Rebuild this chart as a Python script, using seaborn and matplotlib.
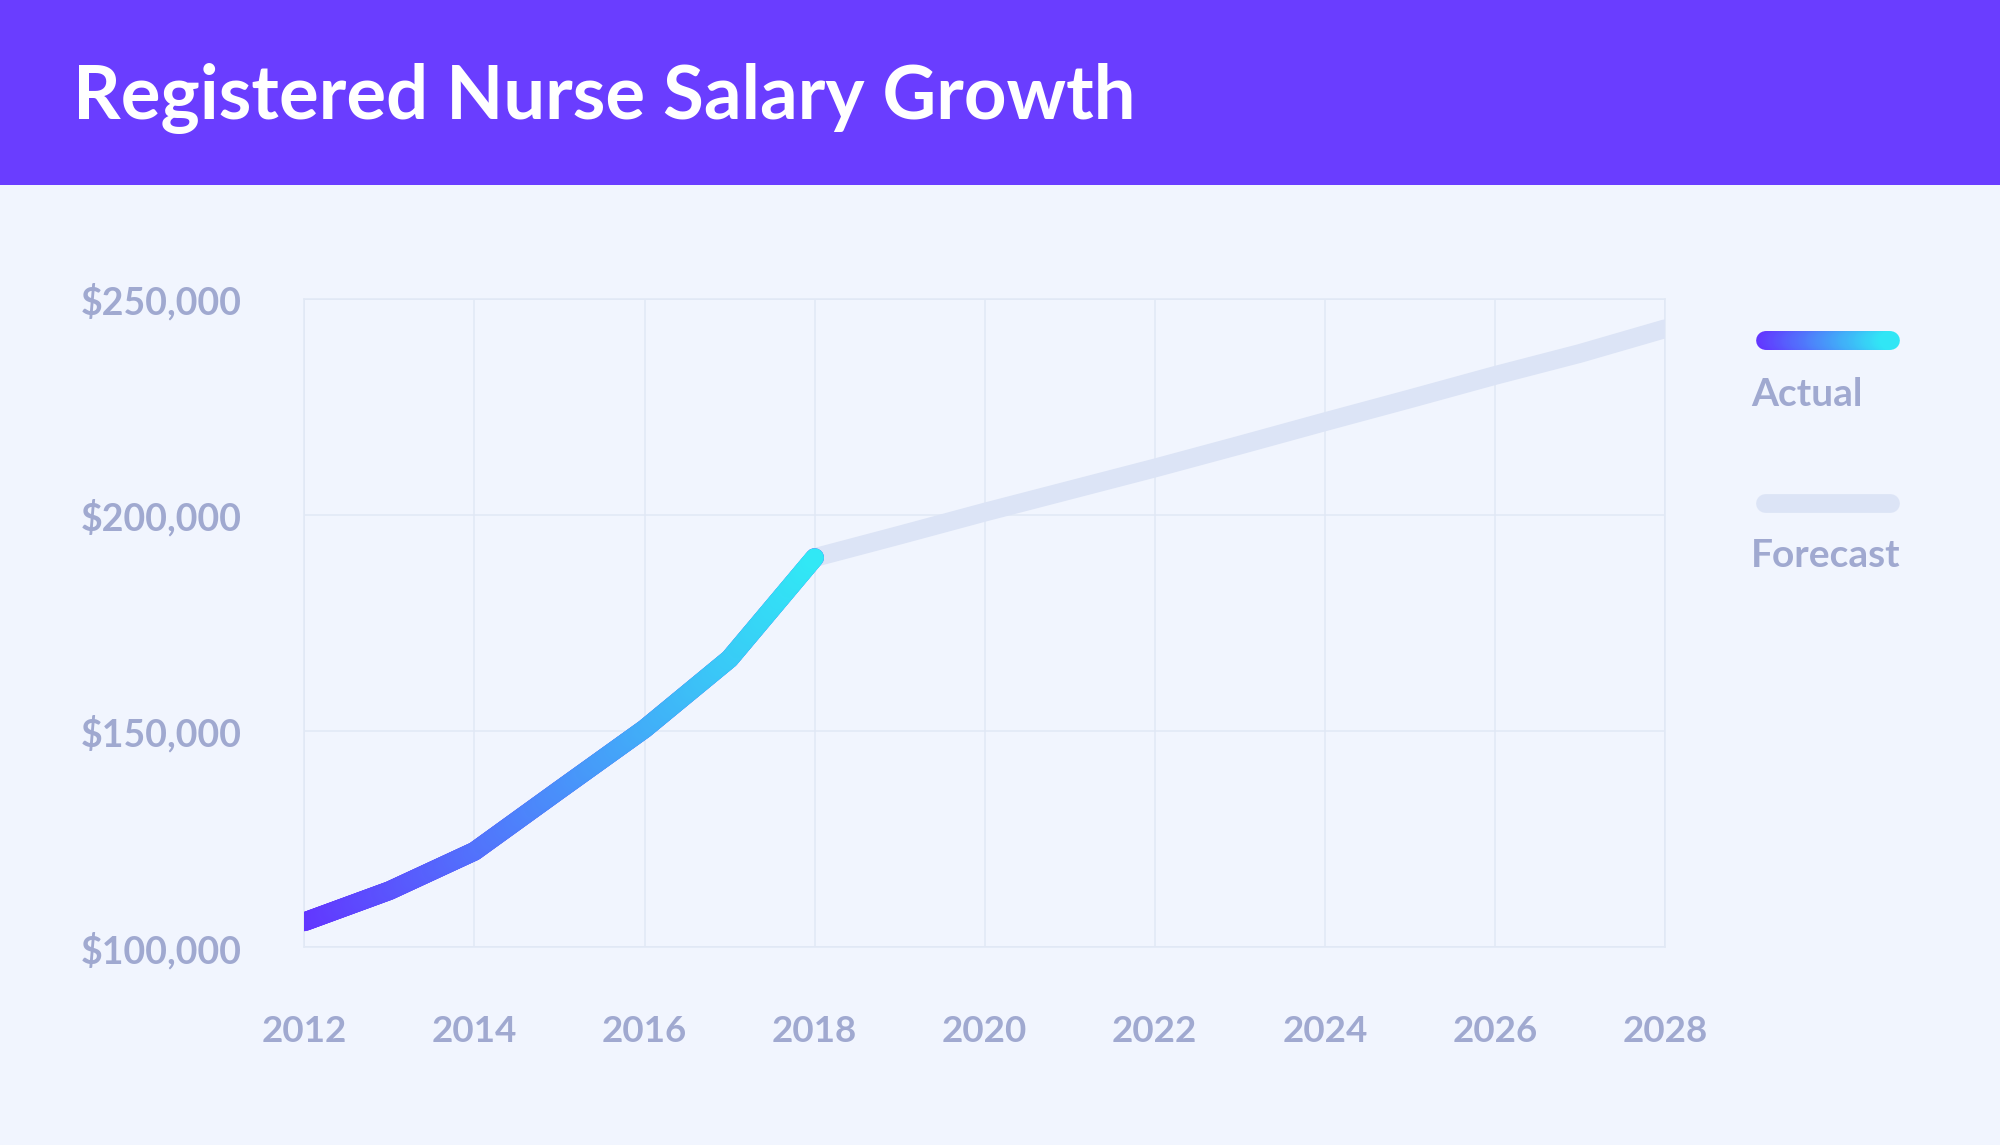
import numpy as np
import pandas as pd
import matplotlib
matplotlib.use("Agg")
import matplotlib.pyplot as plt
import seaborn as sns
from matplotlib.collections import LineCollection
from matplotlib.colors import to_rgb
from matplotlib.lines import Line2D
from matplotlib.patches import Rectangle

# ---- data ----
actual_years = [2012, 2013, 2014, 2015, 2016, 2017, 2018]
actual_salary = [105900, 113100, 122200, 136400, 150500, 166700, 190100]
forecast_years = [2018, 2019, 2020, 2021, 2022, 2023, 2024, 2025, 2026, 2027, 2028]
forecast_salary = [190100, 195300, 200600, 205700, 210800, 216100, 221500, 226800, 232200, 237300, 243000]
x_ticks = [2012, 2014, 2016, 2018, 2020, 2022, 2024, 2026, 2028]
x_tick_labels = ["2012", "2014", "2016", "2018", "2020", "2022", "2024", "2026", "2028"]
y_ticks = [100000, 150000, 200000, 250000]
y_tick_labels = ["$100,000", "$150,000", "$200,000", "$250,000"]
title = "Registered Nurse Salary Growth"
legend_labels = ["Actual", "Forecast"]

# ---- style ----
BG = "#F1F5FE"
HEADER = "#6A3DFF"
TXT = "#A0A9D0"
GRID = "#E1E8F5"
FORECAST = "#DCE4F6"
GRAD_START = "#6334FF"
GRAD_END = "#31E8F5"
LW = 13.5

sns.set_style("white")
plt.rcParams["font.family"] = ["Lato", "DejaVu Sans"]

W, H, DPI = 2000, 1145, 100
fig = plt.figure(figsize=(W / DPI, H / DPI), dpi=DPI, facecolor=BG)

# header band
fig.patches.append(Rectangle((0, 1 - 185 / H), 1, 185 / H, transform=fig.transFigure,
                             facecolor=HEADER, edgecolor="none", zorder=0))
fig.text(73 / W, 1 - 119 / H, title, color="white", fontsize=53.5, fontweight="bold",
         va="baseline", ha="left")

ax_l, ax_r = 304.4 / W, 1665.0 / W
ax_b, ax_t = 1 - 947.3 / H, 1 - 298.5 / H
ax = fig.add_axes([ax_l, ax_b, ax_r - ax_l, ax_t - ax_b])
ax.set_facecolor(BG)

df_f = pd.DataFrame({"year": forecast_years, "salary": forecast_salary})
df_a = pd.DataFrame({"year": actual_years, "salary": actual_salary})

sns.lineplot(data=df_f, x="year", y="salary", ax=ax, color=FORECAST, linewidth=LW,
             solid_capstyle="round", solid_joinstyle="round", zorder=3)
sns.lineplot(data=df_a, x="year", y="salary", ax=ax, color=GRAD_START, linewidth=LW,
             solid_capstyle="round", solid_joinstyle="round", zorder=4)

# gradient overlay on the actual line (subdivide each straight segment only for colouring)
c0, c1 = np.array(to_rgb(GRAD_START)), np.array(to_rgb(GRAD_END))
segs, cols = [], []
xa, ya = np.array(actual_years, float), np.array(actual_salary, float)
x_min, x_max = xa.min(), xa.max()
for i in range(len(xa) - 1):
    n = 40
    t = np.linspace(0, 1, n + 1)
    xs = xa[i] + (xa[i + 1] - xa[i]) * t
    ys = ya[i] + (ya[i + 1] - ya[i]) * t
    for j in range(n):
        segs.append([(xs[j], ys[j]), (xs[j + 1], ys[j + 1])])
        f = ((xs[j] + xs[j + 1]) / 2 - x_min) / (x_max - x_min)
        cols.append(c0 + (c1 - c0) * f)
lc = LineCollection(segs, colors=cols, linewidths=LW, capstyle="round", joinstyle="round", zorder=5)
ax.add_collection(lc)

ax.set_xlim(2012, 2028)
ax.set_ylim(100000, 250000)
ax.set_xticks(x_ticks)
ax.set_xticklabels(x_tick_labels)
ax.set_yticks(y_ticks)
ax.set_yticklabels(y_tick_labels)
ax.set_xlabel("")
ax.set_ylabel("")
ax.grid(True, color=GRID, linewidth=1.1)
ax.set_axisbelow(True)
for s in ax.spines.values():
    s.set_color(GRID)
    s.set_linewidth(1.1)
ax.tick_params(axis="x", length=0, pad=49, labelsize=26.5, labelcolor=TXT)
ax.tick_params(axis="y", length=0, pad=45, labelsize=27, labelcolor=TXT)
for lab in ax.get_xticklabels() + ax.get_yticklabels():
    lab.set_fontweight("bold")

# legend
lx0, lx1 = 1765 / W, 1890 / W
ya_leg, yf_leg = 1 - 340 / H, 1 - 503 / H
t = np.linspace(0, 1, 61)
lsegs, lcols = [], []
for j in range(60):
    lsegs.append([(lx0 + (lx1 - lx0) * t[j], ya_leg), (lx0 + (lx1 - lx0) * t[j + 1], ya_leg)])
    lcols.append(c0 + (c1 - c0) * (t[j] + t[j + 1]) / 2)
leg_lc = LineCollection(lsegs, colors=lcols, linewidths=LW, capstyle="round",
                        transform=fig.transFigure)
fig.add_artist(leg_lc)
fig.add_artist(Line2D([lx0, lx1], [yf_leg, yf_leg], transform=fig.transFigure, color=FORECAST,
                      linewidth=LW, solid_capstyle="round"))
fig.text(1751 / W, 1 - 406 / H, legend_labels[0], color=TXT, fontsize=28, fontweight="bold",
         va="baseline", ha="left")
fig.text(1751 / W, 1 - 567 / H, legend_labels[1], color=TXT, fontsize=28, fontweight="bold",
         va="baseline", ha="left")

fig.savefig("out.png", dpi=DPI, facecolor=BG)
